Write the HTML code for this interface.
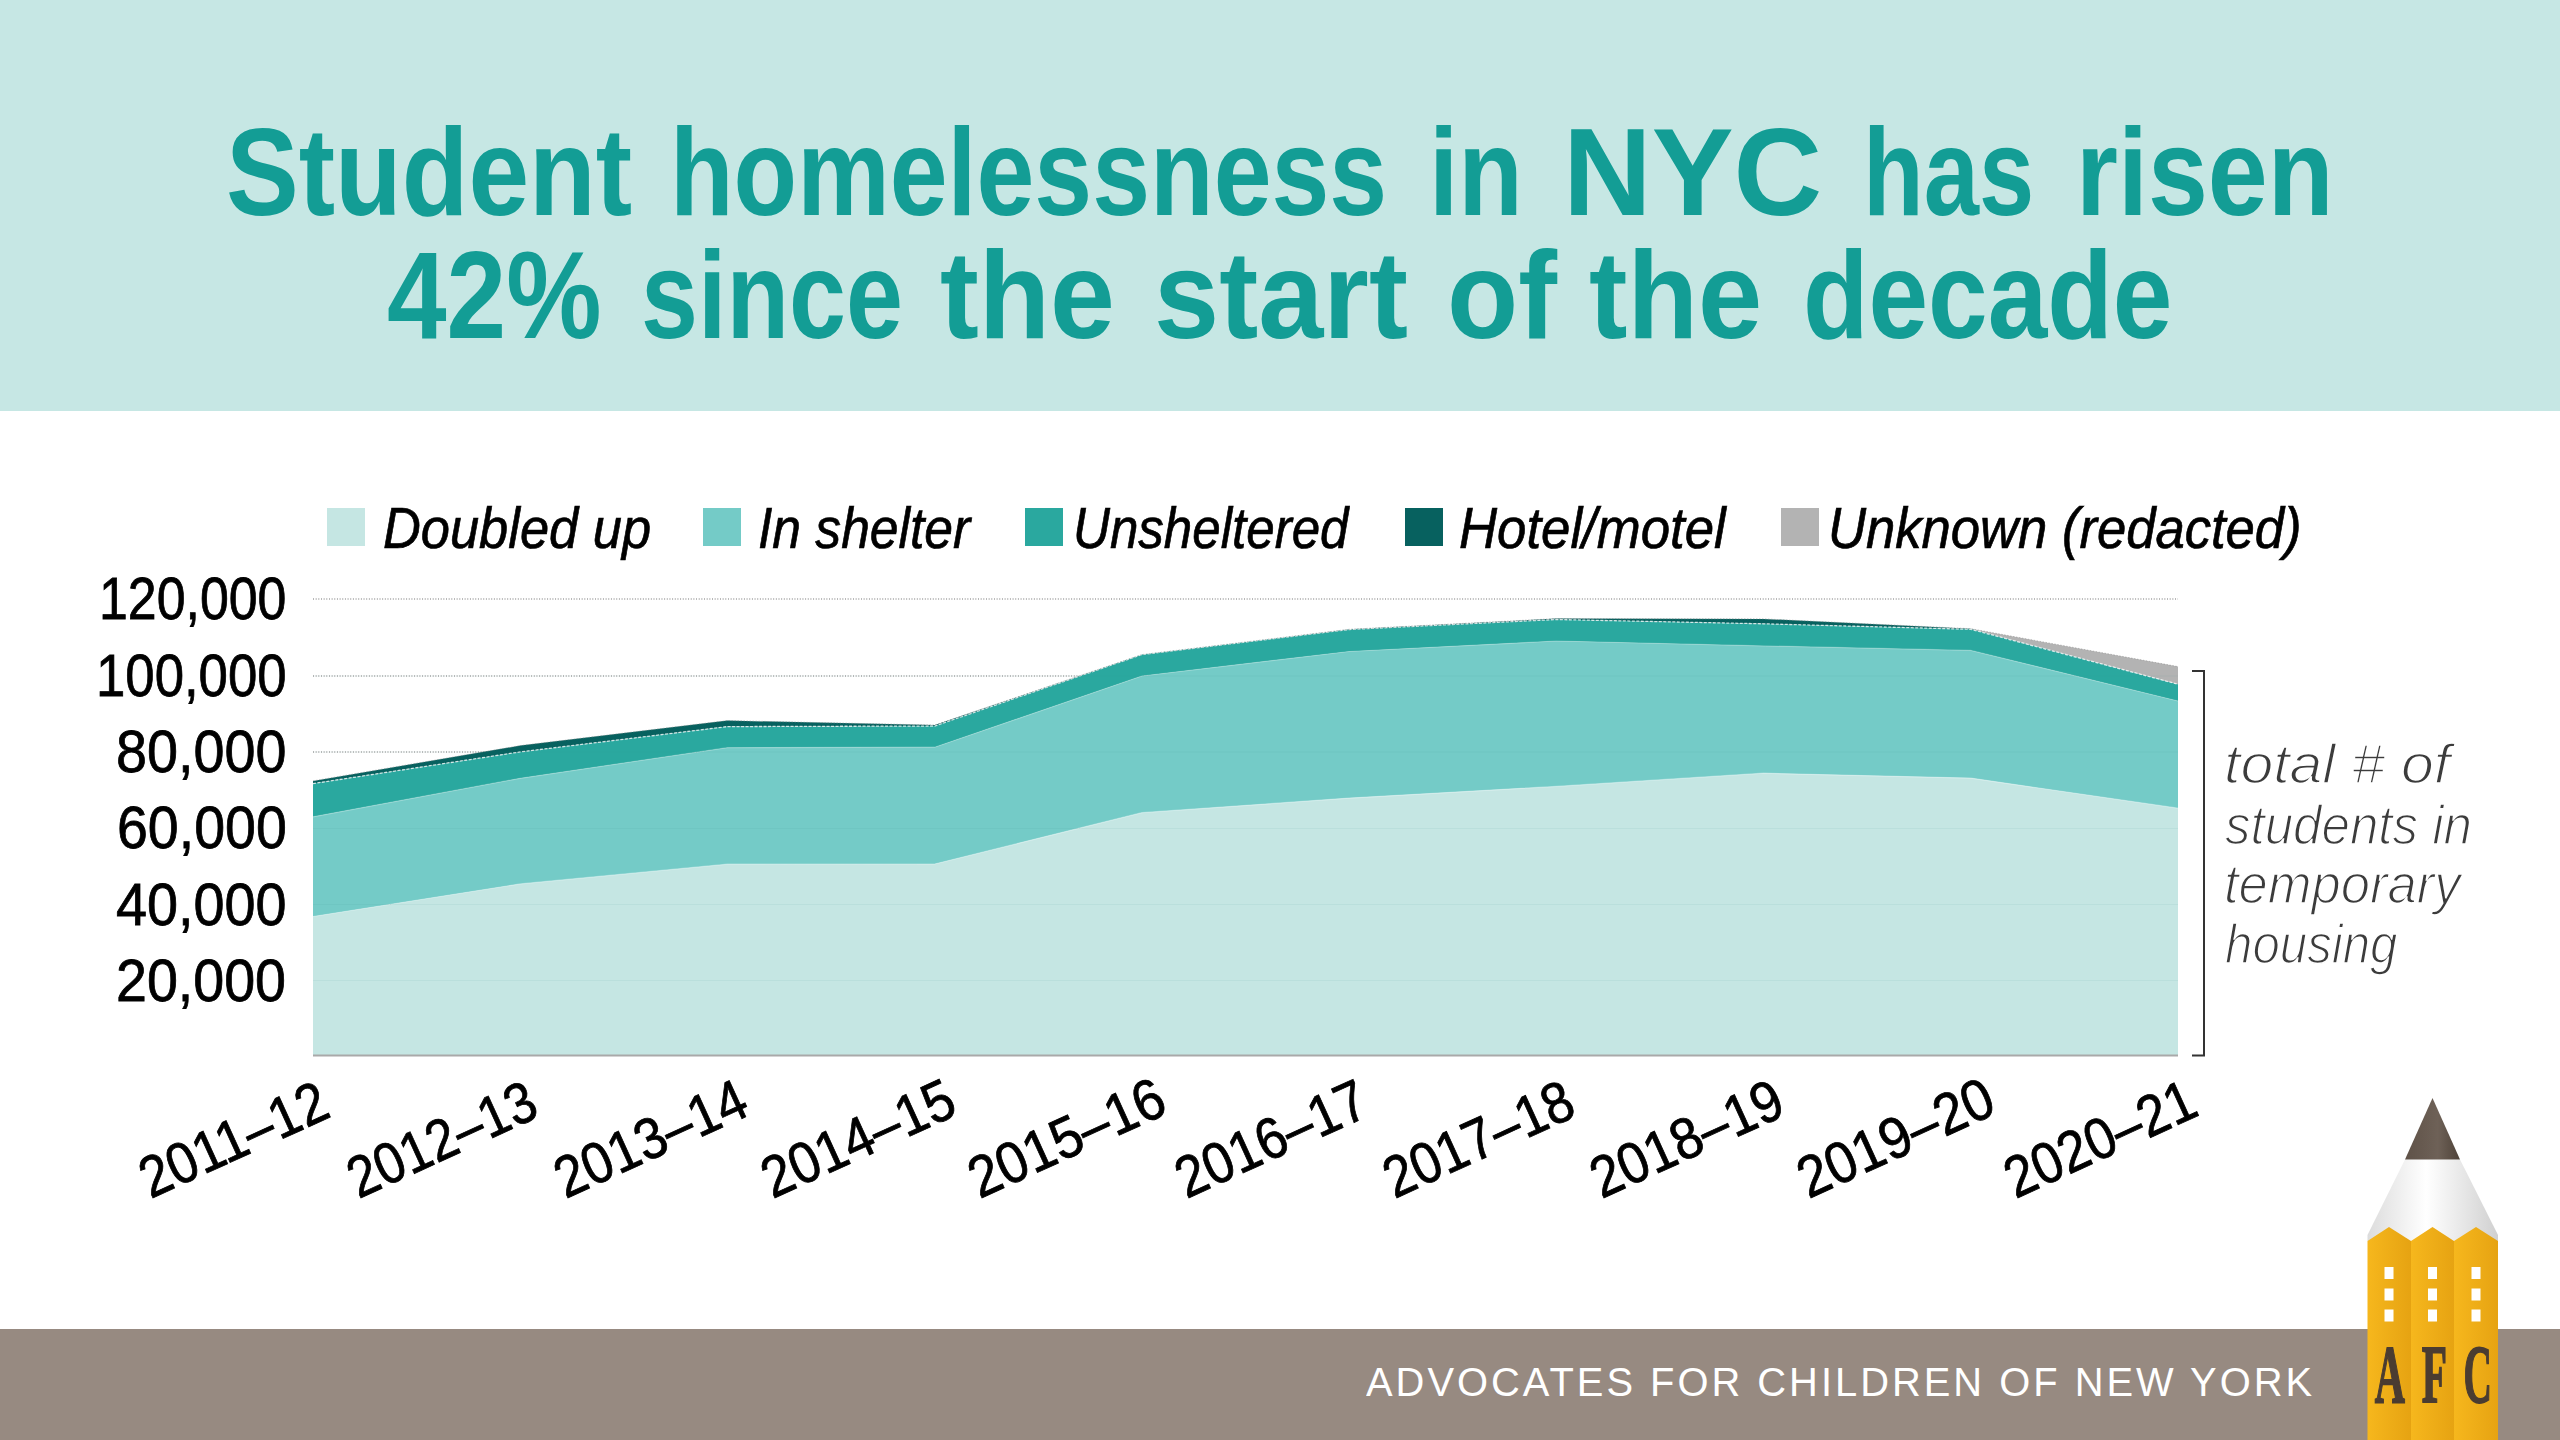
<!DOCTYPE html>
<html><head><meta charset="utf-8">
<style>
html,body{margin:0;padding:0;background:#fff;}
body{width:2560px;height:1440px;position:relative;overflow:hidden;font-family:"Liberation Sans",sans-serif;}
.abs{position:absolute;white-space:nowrap;line-height:1;transform-origin:0 0;}
.sw{position:absolute;width:38px;height:38px;top:507.5px;}
</style></head><body>
<div style="position:absolute;left:0;top:0;width:2560px;height:410.5px;background:#c6e7e4;"></div>
<div style="position:absolute;left:0;top:1329px;width:2560px;height:111px;background:#978a81;"></div>
<div class="sw" style="left:327px;background:#c5e6e3"></div>
<div class="sw" style="left:703px;background:#74cbc7"></div>
<div class="sw" style="left:1025px;background:#2aa89f"></div>
<div class="sw" style="left:1405px;background:#07615f"></div>
<div class="sw" style="left:1781px;background:#b3b3b3"></div>
<svg class="abs" style="left:0;top:0" width="2560" height="1440" viewBox="0 0 2560 1440">
<g stroke="#a0a0a0" stroke-width="1.3" stroke-dasharray="1 1.66">
<line x1="313" y1="599" x2="2178" y2="599"/>
<line x1="313" y1="676" x2="2178" y2="676"/>
<line x1="313" y1="752" x2="2178" y2="752"/>
<line x1="313" y1="828.5" x2="2178" y2="828.5"/>
<line x1="313" y1="904.5" x2="2178" y2="904.5"/>
<line x1="313" y1="980.5" x2="2178" y2="980.5"/>
</g>
<path fill="#c5e6e3" d="M313.0,916.5 L520.2,883.9 L727.4,864.2 L934.7,864.0 L1141.9,812.7 L1349.1,798.1 L1556.3,786.4 L1763.6,773.2 L1970.8,778.1 L2178.0,808.2 L2178.0,1055.5 L1970.8,1055.5 L1763.6,1055.5 L1556.3,1055.5 L1349.1,1055.5 L1141.9,1055.5 L934.7,1055.5 L727.4,1055.5 L520.2,1055.5 L313.0,1055.5 Z"/>
<path fill="#74cbc7" d="M313.0,816.8 L520.2,778.3 L727.4,747.7 L934.7,747.2 L1141.9,676.0 L1349.1,651.5 L1556.3,641.0 L1763.6,645.9 L1970.8,650.4 L2178.0,701.0 L2178.0,808.2 L1970.8,778.1 L1763.6,773.2 L1556.3,786.4 L1349.1,798.1 L1141.9,812.7 L934.7,864.0 L727.4,864.2 L520.2,883.9 L313.0,916.5 Z"/>
<path fill="#2aa89f" d="M313.0,783.6 L520.2,751.9 L727.4,726.6 L934.7,726.0 L1141.9,654.6 L1349.1,629.5 L1556.3,619.5 L1763.6,623.8 L1970.8,629.3 L2178.0,684.2 L2178.0,701.0 L1970.8,650.4 L1763.6,645.9 L1556.3,641.0 L1349.1,651.5 L1141.9,676.0 L934.7,747.2 L727.4,747.7 L520.2,778.3 L313.0,816.8 Z"/>
<path fill="#07615f" d="M313.0,780.9 L520.2,745.6 L727.4,720.6 L934.7,725.1 L1141.9,654.6 L1349.1,629.3 L1556.3,618.6 L1763.6,618.9 L1970.8,628.7 L2178.0,684.2 L2178.0,684.2 L1970.8,629.3 L1763.6,623.8 L1556.3,619.5 L1349.1,629.5 L1141.9,654.6 L934.7,726.0 L727.4,726.6 L520.2,751.9 L313.0,783.6 Z"/>
<path fill="#b3b3b3" d="M1970.8,628.7 L2178.0,666.6 L2178.0,684.2 Z"/>
<path fill="none" stroke="#fff" stroke-width="1.2" opacity="0.35" d="M313.0,916.5 L520.2,883.9 L727.4,864.2 L934.7,864.0 L1141.9,812.7 L1349.1,798.1 L1556.3,786.4 L1763.6,773.2 L1970.8,778.1 L2178.0,808.2"/>
<path fill="none" stroke="#fff" stroke-width="1.2" opacity="0.25" d="M313.0,816.8 L520.2,778.3 L727.4,747.7 L934.7,747.2 L1141.9,676.0 L1349.1,651.5 L1556.3,641.0 L1763.6,645.9 L1970.8,650.4 L2178.0,701.0"/>
<path fill="none" stroke="#fff" stroke-width="1.3" stroke-dasharray="3 1.5" opacity="0.75" d="M313.0,783.6 L520.2,751.9 L727.4,726.6 L934.7,726.0 L1141.9,654.6 L1349.1,629.5 L1556.3,619.5 L1763.6,623.8 L1970.8,629.3 L2178.0,684.2"/>
<g stroke="#3a8f8a" stroke-width="1" opacity="0.07">
<line x1="313" y1="676" x2="2178" y2="676"/>
<line x1="313" y1="752" x2="2178" y2="752"/>
<line x1="313" y1="828.5" x2="2178" y2="828.5"/>
<line x1="313" y1="904.5" x2="2178" y2="904.5"/>
<line x1="313" y1="980.5" x2="2178" y2="980.5"/>
</g>
<path fill="none" stroke="#888" stroke-width="1" stroke-dasharray="1.5 1.5" opacity="0.5" d="M313.0,780.9 L520.2,745.6 L727.4,720.6 L934.7,725.1 L1141.9,654.6 L1349.1,629.3 L1556.3,618.6 L1763.6,618.9 L1970.8,628.7 L2178.0,666.6"/>
<line x1="313" y1="1055.5" x2="2178" y2="1055.5" stroke="#a9a9a9" stroke-width="2"/>
<path d="M2192,671 H2204 V1055.5 H2192" fill="none" stroke="#333" stroke-width="2"/>
</svg>
<div class="abs" id="ta0" style="left:226.48px;top:110.03px;font-size:124px;font-weight:bold;color:#139d95;transform:scaleX(0.8799);">Student</div>
<div class="abs" id="ta1" style="left:670.45px;top:110.03px;font-size:124px;font-weight:bold;color:#139d95;transform:scaleX(0.8392);">homelessness</div>
<div class="abs" id="ta2" style="left:1428.59px;top:110.03px;font-size:124px;font-weight:bold;color:#139d95;transform:scaleX(0.8511);">in</div>
<div class="abs" id="ta3" style="left:1563.33px;top:110.03px;font-size:124px;font-weight:bold;color:#139d95;transform:scaleX(0.9900);">NYC</div>
<div class="abs" id="ta4" style="left:1863.04px;top:110.03px;font-size:124px;font-weight:bold;color:#139d95;transform:scaleX(0.8008);">has</div>
<div class="abs" id="ta5" style="left:2076.30px;top:110.03px;font-size:124px;font-weight:bold;color:#139d95;transform:scaleX(0.8692);">risen</div>
<div class="abs" id="tb0" style="left:387.02px;top:233.03px;font-size:124px;font-weight:bold;color:#139d95;transform:scaleX(0.8642);">42%</div>
<div class="abs" id="tb1" style="left:640.87px;top:233.03px;font-size:124px;font-weight:bold;color:#139d95;transform:scaleX(0.8263);">since</div>
<div class="abs" id="tb2" style="left:940.12px;top:233.03px;font-size:124px;font-weight:bold;color:#139d95;transform:scaleX(0.9403);">the</div>
<div class="abs" id="tb3" style="left:1154.03px;top:233.03px;font-size:124px;font-weight:bold;color:#139d95;transform:scaleX(0.9447);">start</div>
<div class="abs" id="tb4" style="left:1447.05px;top:233.03px;font-size:124px;font-weight:bold;color:#139d95;transform:scaleX(0.9397);">of</div>
<div class="abs" id="tb5" style="left:1589.39px;top:233.03px;font-size:124px;font-weight:bold;color:#139d95;transform:scaleX(0.9306);">the</div>
<div class="abs" id="tb6" style="left:1803.18px;top:233.03px;font-size:124px;font-weight:bold;color:#139d95;transform:scaleX(0.8642);">decade</div>
<div class="abs" id="l1" style="left:383.10px;top:498.50px;font-size:58px;font-style:italic;-webkit-text-stroke:0.7px #000;color:#000;transform:scaleX(0.9034);">Doubled up</div>
<div class="abs" id="l2" style="left:758.22px;top:498.50px;font-size:58px;font-style:italic;-webkit-text-stroke:0.7px #000;color:#000;transform:scaleX(0.8895);">In shelter</div>
<div class="abs" id="l3" style="left:1073.48px;top:498.50px;font-size:58px;font-style:italic;-webkit-text-stroke:0.7px #000;color:#000;transform:scaleX(0.8810);">Unsheltered</div>
<div class="abs" id="l4" style="left:1458.79px;top:498.50px;font-size:58px;font-style:italic;-webkit-text-stroke:0.7px #000;color:#000;transform:scaleX(0.9092);">Hotel/motel</div>
<div class="abs" id="l5" style="left:1828.37px;top:498.50px;font-size:58px;font-style:italic;-webkit-text-stroke:0.7px #000;color:#000;transform:scaleX(0.9068);">Unknown (redacted)</div>
<div class="abs" id="y1" style="left:99.24px;top:569.21px;font-size:60px;-webkit-text-stroke:0.8px #000;color:#000;transform:scaleX(0.8640);">120,000</div>
<div class="abs" id="y2" style="left:96.09px;top:645.91px;font-size:60px;-webkit-text-stroke:0.8px #000;color:#000;transform:scaleX(0.8787);">100,000</div>
<div class="abs" id="y3" style="left:116.04px;top:722.41px;font-size:60px;-webkit-text-stroke:0.8px #000;color:#000;transform:scaleX(0.9283);">80,000</div>
<div class="abs" id="y4" style="left:116.62px;top:798.41px;font-size:60px;-webkit-text-stroke:0.8px #000;color:#000;transform:scaleX(0.9251);">60,000</div>
<div class="abs" id="y5" style="left:115.77px;top:875.01px;font-size:60px;-webkit-text-stroke:0.8px #000;color:#000;transform:scaleX(0.9298);">40,000</div>
<div class="abs" id="y6" style="left:116.42px;top:950.91px;font-size:60px;-webkit-text-stroke:0.8px #000;color:#000;transform:scaleX(0.9263);">20,000</div>
<div class="abs" id="s1" style="left:2224.04px;top:736.40px;font-size:56px;font-style:italic;-webkit-text-stroke:1.6px #fff;color:#3c3c3c;transform:scaleX(1.0528);">total # of</div>
<div class="abs" id="s2" style="left:2224.78px;top:796.70px;font-size:56px;font-style:italic;-webkit-text-stroke:1.6px #fff;color:#3c3c3c;transform:scaleX(0.9117);">students in</div>
<div class="abs" id="s3" style="left:2224.38px;top:855.90px;font-size:56px;font-style:italic;-webkit-text-stroke:1.6px #fff;color:#3c3c3c;transform:scaleX(0.9384);">temporary</div>
<div class="abs" id="s4" style="left:2225.44px;top:915.50px;font-size:56px;font-style:italic;-webkit-text-stroke:1.6px #fff;color:#3c3c3c;transform:scaleX(0.8792);">housing</div>
<div class="abs" id="f1" style="left:1366.10px;top:1362.24px;font-size:40px;letter-spacing:3px;color:#fff;transform:scaleX(0.9972);">ADVOCATES FOR CHILDREN OF NEW YORK</div>
<div class="abs" style="left:150.3px;top:1149.4px;font-size:58px;color:#000;-webkit-text-stroke:0.8px #000;transform-origin:2.71px 49.10px;transform:rotate(-24.5deg) scaleX(0.9042);">2011–12</div>
<div class="abs" style="left:357.6px;top:1149.4px;font-size:58px;color:#000;-webkit-text-stroke:0.8px #000;transform-origin:2.67px 49.10px;transform:rotate(-24.5deg) scaleX(0.8900);">2012–13</div>
<div class="abs" style="left:564.7px;top:1149.4px;font-size:58px;color:#000;-webkit-text-stroke:0.8px #000;transform-origin:2.72px 49.10px;transform:rotate(-24.5deg) scaleX(0.9081);">2013–14</div>
<div class="abs" style="left:771.9px;top:1149.4px;font-size:58px;color:#000;-webkit-text-stroke:0.8px #000;transform-origin:2.74px 49.10px;transform:rotate(-24.5deg) scaleX(0.9118);">2014–15</div>
<div class="abs" style="left:979.1px;top:1149.4px;font-size:58px;color:#000;-webkit-text-stroke:0.8px #000;transform-origin:2.78px 49.10px;transform:rotate(-24.5deg) scaleX(0.9273);">2015–16</div>
<div class="abs" style="left:1186.4px;top:1149.4px;font-size:58px;color:#000;-webkit-text-stroke:0.8px #000;transform-origin:2.71px 49.10px;transform:rotate(-24.5deg) scaleX(0.9032);">2016–17</div>
<div class="abs" style="left:1393.6px;top:1149.4px;font-size:58px;color:#000;-webkit-text-stroke:0.8px #000;transform-origin:2.69px 49.10px;transform:rotate(-24.5deg) scaleX(0.8964);">2017–18</div>
<div class="abs" style="left:1600.8px;top:1149.4px;font-size:58px;color:#000;-webkit-text-stroke:0.8px #000;transform-origin:2.72px 49.10px;transform:rotate(-24.5deg) scaleX(0.9077);">2018–19</div>
<div class="abs" style="left:1808.0px;top:1149.4px;font-size:58px;color:#000;-webkit-text-stroke:0.8px #000;transform-origin:2.78px 49.10px;transform:rotate(-24.5deg) scaleX(0.9268);">2019–20</div>
<div class="abs" style="left:2015.3px;top:1149.4px;font-size:58px;color:#000;-webkit-text-stroke:0.8px #000;transform-origin:2.71px 49.10px;transform:rotate(-24.5deg) scaleX(0.9027);">2020–21</div>
<svg class="abs" style="left:0;top:0" width="2560" height="1440" viewBox="0 0 2560 1440">
<defs>
<linearGradient id="col" x1="0" x2="1" y1="0" y2="0">
<stop offset="0" stop-color="#f6b71d"/><stop offset="1" stop-color="#e6a312"/>
</linearGradient>
<linearGradient id="cone" x1="0" x2="1" y1="0" y2="0">
<stop offset="0" stop-color="#dcdcdc"/><stop offset="0.45" stop-color="#ffffff"/><stop offset="1" stop-color="#d0d0d0"/>
</linearGradient>
<linearGradient id="tip" x1="0" x2="1" y1="0" y2="0">
<stop offset="0" stop-color="#5f5248"/><stop offset="0.6" stop-color="#6e6157"/><stop offset="1" stop-color="#4e4238"/>
</linearGradient>
</defs>
<path d="M2405,1159.5 L2460,1159.5 L2498,1235 L2498,1241 L2367.5,1241 L2367.5,1235 Z" fill="url(#cone)"/>
<path d="M2432.5,1098 L2460,1159.5 L2405,1159.5 Z" fill="url(#tip)"/>
<path d="M2367.5,1241 L2389,1227 L2411,1241 L2411,1440 L2367.5,1440 Z" fill="url(#col)"/>
<path d="M2411,1241 L2432.5,1227 L2454,1241 L2454,1440 L2411,1440 Z" fill="url(#col)"/>
<path d="M2454,1241 L2476,1227 L2498,1241 L2498,1440 L2454,1440 Z" fill="url(#col)"/>
<g fill="#fff">
<rect x="2384.5" y="1267" width="9" height="12"/><rect x="2428" y="1267" width="9" height="12"/><rect x="2471.5" y="1267" width="9" height="12"/>
<rect x="2384.5" y="1288.5" width="9" height="12"/><rect x="2428" y="1288.5" width="9" height="12"/><rect x="2471.5" y="1288.5" width="9" height="12"/>
<rect x="2384.5" y="1309.5" width="9" height="12"/><rect x="2428" y="1309.5" width="9" height="12"/><rect x="2471.5" y="1309.5" width="9" height="12"/>
</g>
<g fill="#4a3c31" stroke="#4a3c31" stroke-width="1.4" font-family="Liberation Serif" font-weight="bold" font-size="82" text-anchor="middle">
<text vector-effect="non-scaling-stroke" transform="translate(2389.9 1402.4) scale(0.51 1)">A</text>
<text vector-effect="non-scaling-stroke" transform="translate(2434.3 1402.4) scale(0.505 1)">F</text>
<text vector-effect="non-scaling-stroke" transform="translate(2477.8 1402.4) scale(0.48 1)">C</text>
</g>
</svg>
</body></html>
